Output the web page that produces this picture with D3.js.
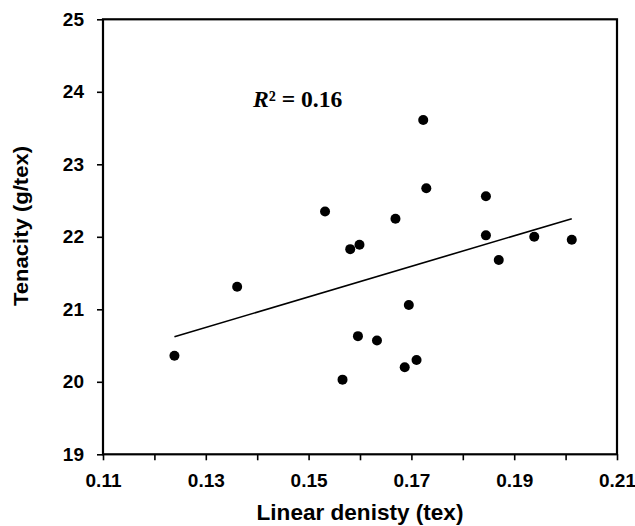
<!DOCTYPE html>
<html>
<head>
<meta charset="utf-8">
<script src="https://cdn.jsdelivr.net/npm/d3@7"></script>
<style>
  body { margin: 0; background: #fff; }
  svg { display: block; }
  .axis text { font-family: "Liberation Sans", Arial, sans-serif; font-weight: bold; font-size: 19px; fill: #000; }
</style>
</head>
<body>
<svg id="chart" width="635" height="526"></svg>
<script>
// linear density (tex) and tenacity (g/tex), one entry per sample
var linearDensity = [0.1239, 0.1361, 0.1532, 0.1581, 0.1599, 0.1669, 0.1723, 0.1729, 0.1845, 0.1845,
  0.1939, 0.2012, 0.1870, 0.1596, 0.1633, 0.1566, 0.1695, 0.1710, 0.1687];
var tenacity = [20.36, 21.31, 22.35, 21.83, 21.89, 22.25, 23.61, 22.67, 22.56, 22.02,
  22.00, 21.96, 21.68, 20.63, 20.57, 20.03, 21.06, 20.30, 20.20];

var xTicks = [0.11, 0.12, 0.13, 0.14, 0.15, 0.16, 0.17, 0.18, 0.19, 0.20, 0.21];
var xLabels = [0.11, 0.13, 0.15, 0.17, 0.19, 0.21];
var yTicks = [19, 20, 21, 22, 23, 24, 25];
var r2Label = '0.16';

var margin = {top: 19.3, left: 103, right: 18, bottom: 71.7};
var width = 635 - margin.left - margin.right,
    height = 526 - margin.top - margin.bottom;

var svg = d3.select('#chart');
var g = svg.append('g').attr('transform', 'translate(' + margin.left + ',' + margin.top + ')');

var x = d3.scaleLinear().domain([0.11, 0.21]).range([0, width]);
var y = d3.scaleLinear().domain([19, 25]).range([height, 0]);

// frame
g.append('rect')
  .attr('width', width).attr('height', height)
  .attr('fill', 'none').attr('stroke', '#000').attr('stroke-width', 2.2);

var xAxis = g.append('g').attr('class', 'axis')
  .attr('transform', 'translate(0,' + height + ')')
  .call(d3.axisBottom(x).tickValues(xTicks).tickSize(6).tickPadding(13)
    .tickFormat(d => xLabels.some(v => Math.abs(v - d) < 1e-9) ? d3.format('.2f')(d) : ''));

var yAxis = g.append('g').attr('class', 'axis')
  .call(d3.axisLeft(y).tickValues(yTicks).tickSize(6).tickPadding(13).tickFormat(d3.format('d')));

[xAxis, yAxis].forEach(a => {
  a.select('.domain').remove();
  a.selectAll('line').attr('stroke', '#000').attr('stroke-width', 1.6);
});

// linear trend line (least squares)
var mx = d3.mean(linearDensity), my = d3.mean(tenacity);
var sxy = d3.sum(linearDensity, (d, i) => (d - mx) * (tenacity[i] - my));
var sxx = d3.sum(linearDensity, d => (d - mx) * (d - mx));
var slope = sxy / sxx, intercept = my - slope * mx;
var ext = d3.extent(linearDensity);

g.append('line')
  .attr('x1', x(ext[0])).attr('y1', y(intercept + slope * ext[0]))
  .attr('x2', x(ext[1])).attr('y2', y(intercept + slope * ext[1]))
  .attr('stroke', '#000').attr('stroke-width', 1.6);

g.selectAll('circle.pt')
  .data(linearDensity)
  .enter()
  .append('circle')
  .attr('class', 'pt')
  .attr('cx', d => x(d))
  .attr('cy', (d, i) => y(tenacity[i]))
  .attr('r', 5)
  .attr('fill', '#000');

// R² label
var r2 = g.append('text')
  .attr('transform', 'translate(' + (253 - margin.left) + ',' + (107.3 - margin.top) + ') scale(1.05,1)')
  .attr('font-family', '"Liberation Serif", "Times New Roman", serif')
  .attr('font-weight', 'bold')
  .attr('font-size', '22.5px');
r2.append('tspan').attr('font-style', 'italic').text('R');
r2.append('tspan').text('² = ' + r2Label);

// axis titles
svg.append('text')
  .attr('transform', 'translate(360,520) scale(1.05,1)')
  .attr('text-anchor', 'middle')
  .attr('font-family', '"Liberation Sans", Arial, sans-serif')
  .attr('font-weight', 'bold')
  .attr('font-size', '21.5px')
  .text('Linear denisty (tex)');

svg.append('text')
  .attr('transform', 'translate(27.5,226) rotate(-90) scale(1.05,1)')
  .attr('text-anchor', 'middle')
  .attr('font-family', '"Liberation Sans", Arial, sans-serif')
  .attr('font-weight', 'bold')
  .attr('font-size', '21px')
  .text('Tenacity (g/tex)');
</script>
</body>
</html>
